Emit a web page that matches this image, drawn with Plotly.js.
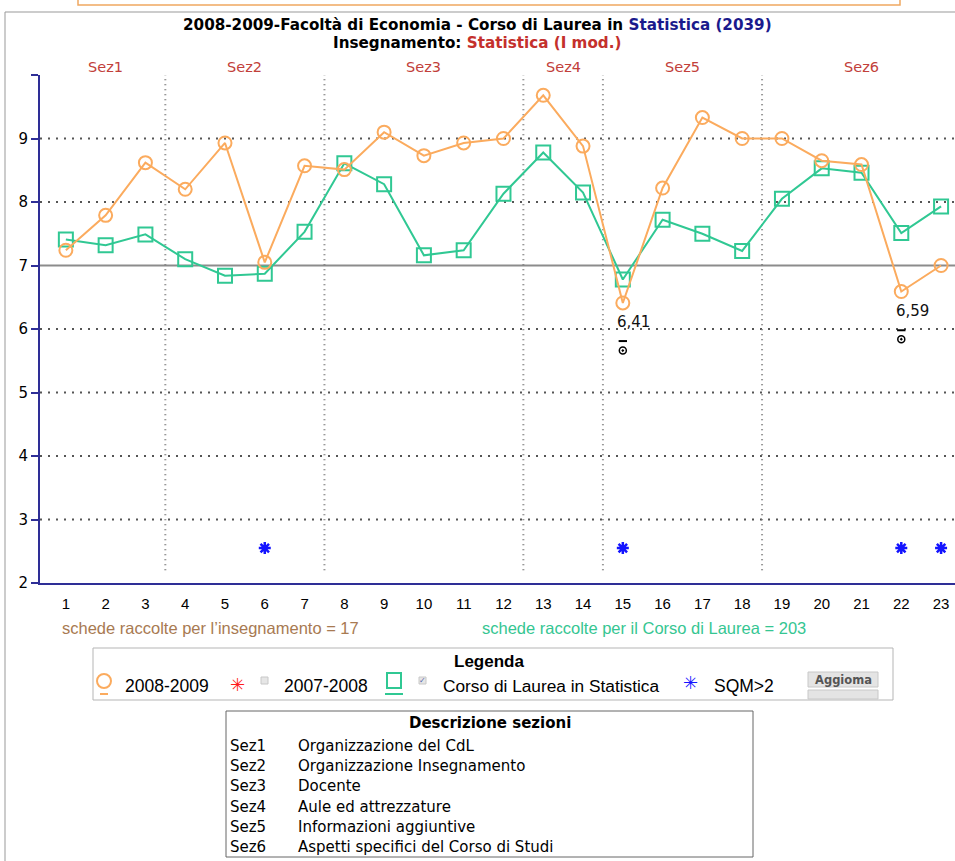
<!DOCTYPE html>
<html>
<head>
<meta charset="utf-8">
<script src="https://cdn.plot.ly/plotly-3.0.1.min.js"></script>
<style>
html,body{margin:0;padding:0;background:#fff;}
#chart{width:955px;height:861px;}
</style>
</head>
<body>
<div id="chart"></div>
<script>
// ---------- DATA ----------
var questions = [1,2,3,4,5,6,7,8,9,10,11,12,13,14,15,16,17,18,19,20,21,22,23];
var tickLabels = ["1","2","3","4","5","6","7","8","9","10","11","12","13","14","15","16","17","18","19","20","21","22","23"];
var values2008 = [7.24,7.79,8.62,8.20,8.93,7.05,8.57,8.51,9.10,8.73,8.93,9.00,9.68,8.88,6.41,8.22,9.33,9.00,9.00,8.65,8.59,6.59,7.00];
var valuesCdL  = [7.41,7.32,7.49,7.10,6.84,6.87,7.53,8.61,8.28,7.16,7.24,8.13,8.78,8.15,6.78,7.72,7.50,7.23,8.05,8.53,8.46,7.51,7.93];
var sqmX = [6,15,22,23];
var sqmY = [2.55,2.55,2.55,2.55];
var lowX = [15,22];
var lowLabels = ["6,41","6,59"];
var lowLabelY = [6.11,6.28];
var prevMarkX = [15,22];
var prevMarkY = [5.66,5.84];
var prevTickY = [5.81,5.98];
var sezNames = ["Sez1","Sez2","Sez3","Sez4","Sez5","Sez6"];
var sezCenters = [2,5.5,10,13.5,16.5,21];
var sezBounds = [3.5,7.5,12.5,14.5,18.5];
var sezDesc = ["Organizzazione del CdL","Organizzazione Insegnamento","Docente","Aule ed attrezzature","Informazioni aggiuntive","Aspetti specifici del Corso di Studi"];
var gridVals = [3,4,5,6,8,9];
var refLine = 7;
var yTicks = [2,3,4,5,6,7,8,9,10];
var yTickText = ["2","3","4","5","6","7","8","9",""];

// ---------- helpers (layout positions in pixels -> paper) ----------
var L=40, T=75, W=915, H=508;
function xp(p){return (p-L)/W;}
function yp(p){return (T+H-p)/H;}

var ORANGE='#fbab5e', GREEN='#30c893', BLUE='#1414ff';
var NAR='"Liberation Sans",Arial,sans-serif';
var VER='"DejaVu Sans",Verdana,sans-serif';

var traces = [
  {x:questions,y:valuesCdL,type:'scatter',mode:'lines+markers',
   line:{color:GREEN,width:2},marker:{symbol:'square-open',size:14,color:GREEN,line:{width:2,color:GREEN}},hoverinfo:'x+y'},
  {x:questions,y:values2008,type:'scatter',mode:'lines+markers',
   line:{color:ORANGE,width:2},marker:{symbol:'circle-open',size:13,color:ORANGE,line:{width:2,color:ORANGE}},hoverinfo:'x+y'},
  {x:sqmX,y:sqmY,type:'scatter',mode:'markers',
   marker:{symbol:'asterisk-open',size:10,color:BLUE,line:{width:2.5,color:BLUE}}},
  {x:prevMarkX,y:prevMarkY,type:'scatter',mode:'markers',
   marker:{symbol:'circle-open-dot',size:7,color:'#000',line:{width:1.5,color:'#000'}}},
  {x:prevMarkX,y:prevTickY,type:'scatter',mode:'markers',
   marker:{symbol:'line-ew-open',size:6,color:'#000',line:{width:2,color:'#000'}}}
];

var shapes = [];
// horizontal dotted grid
gridVals.forEach(function(v){
  shapes.push({type:'line',xref:'paper',yref:'y',x0:0,x1:1,y0:v,y1:v,layer:'below',
    line:{color:'#555',width:2,dash:'2px,6px'}});
});
shapes.push({type:'line',xref:'paper',yref:'y',x0:0,x1:1,y0:refLine,y1:refLine,layer:'below',
  line:{color:'#8c8c8c',width:2}});
// section dividers
sezBounds.forEach(function(b){
  shapes.push({type:'line',xref:'x',yref:'y',x0:b,x1:b,y0:2.2,y1:10.05,layer:'below',
    line:{color:'#777',width:2,dash:'1px,4px'}});
});
// page frame
shapes.push({type:'line',xref:'paper',yref:'paper',x0:xp(5),x1:xp(5),y0:yp(12),y1:yp(861),line:{color:'#999',width:1}});
shapes.push({type:'line',xref:'paper',yref:'paper',x0:xp(5),x1:xp(955),y0:yp(12),y1:yp(12),line:{color:'#999',width:1}});
shapes.push({type:'rect',xref:'paper',yref:'paper',x0:xp(78),x1:xp(900),y0:yp(-5),y1:yp(5),line:{color:'#f0a860',width:1.5},fillcolor:'#fff'});
// legend box
shapes.push({type:'rect',xref:'paper',yref:'paper',x0:xp(93),x1:xp(893),y0:yp(648),y1:yp(700),line:{color:'#b5b5b5',width:1},fillcolor:'#fff'});
shapes.push({type:'circle',xref:'paper',yref:'paper',x0:xp(97),x1:xp(111),y0:yp(674),y1:yp(688),line:{color:ORANGE,width:2}});
shapes.push({type:'line',xref:'paper',yref:'paper',x0:xp(100),x1:xp(108),y0:yp(694),y1:yp(694),line:{color:ORANGE,width:2}});
shapes.push({type:'rect',xref:'paper',yref:'paper',x0:xp(387),x1:xp(401),y0:yp(673),y1:yp(688),line:{color:GREEN,width:2}});
shapes.push({type:'line',xref:'paper',yref:'paper',x0:xp(385),x1:xp(403),y0:yp(694),y1:yp(694),line:{color:GREEN,width:2}});
shapes.push({type:'rect',xref:'paper',yref:'paper',x0:xp(261),x1:xp(268),y0:yp(677),y1:yp(684),line:{color:'#c8c8c8',width:1},fillcolor:'#e6e6e6'});
shapes.push({type:'rect',xref:'paper',yref:'paper',x0:xp(419),x1:xp(426),y0:yp(677),y1:yp(684),line:{color:'#c8c8c8',width:1},fillcolor:'#e6e6e6'});
shapes.push({type:'rect',xref:'paper',yref:'paper',x0:xp(808),x1:xp(878),y0:yp(672),y1:yp(687),line:{color:'#c8c8c8',width:1},fillcolor:'#e4e4e4'});
shapes.push({type:'rect',xref:'paper',yref:'paper',x0:xp(808),x1:xp(878),y0:yp(690),y1:yp(699),line:{color:'#c8c8c8',width:1},fillcolor:'#e4e4e4'});
// description table
shapes.push({type:'rect',xref:'paper',yref:'paper',x0:xp(226),x1:xp(753),y0:yp(711),y1:yp(857),line:{color:'#666',width:1},fillcolor:'rgba(0,0,0,0)'});

var ann = [];
function txt(x,y,text,opt){
  opt=opt||{};
  ann.push({xref:'paper',yref:'paper',x:xp(x),y:yp(y),text:text,showarrow:false,
    xanchor:opt.xa||'center',yanchor:'middle',
    font:{family:opt.fam||NAR,size:opt.size||14,color:opt.color||'#000'}});
}
txt(477,25,"<b>2008-2009-Facoltà di Economia - Corso di Laurea in <span style='color:#1a1a8c'>Statistica (2039)</span></b>",{size:15.2,fam:VER});
txt(477,43,"<b>Insegnamento: <span style='color:#c4302c'>Statistica (I mod.)</span></b>",{size:15.2,fam:VER});
sezNames.forEach(function(s,i){
  ann.push({xref:'x',yref:'paper',x:sezCenters[i],y:yp(67),text:s,showarrow:false,yanchor:'middle',
    font:{family:VER,size:14.5,color:'#c2403a'}});
});
lowX.forEach(function(x,i){
  ann.push({xref:'x',yref:'y',x:x,y:lowLabelY[i],text:lowLabels[i],showarrow:false,yanchor:'middle',xshift:11,
    font:{family:VER,size:15,color:'#111'}});
});
txt(60,628,"schede raccolte per l\u2019insegnamento = 17",{xa:'left',size:16.5,color:'#a87a52'});
txt(480,628,"schede raccolte per il Corso di Laurea = 203",{xa:'left',size:16.5,color:'#35c692'});
txt(489,661,"<b>Legenda</b>",{size:17});
txt(123,686,"2008-2009",{xa:'left',size:17.5});
txt(237,684,"<b>\u2733</b>",{size:18,color:'#ff1a1a',fam:VER});
txt(282,686,"2007-2008",{xa:'left',size:17.5});
txt(422,680,"\u2713",{size:8,color:'#5566aa',fam:VER});
txt(441,686,"Corso di Laurea in Statistica",{xa:'left',size:17.3});
txt(690,682,"<b>\u2733</b>",{size:18,color:BLUE,fam:VER});
txt(712,686,"SQM>2",{xa:'left',size:17.5});
txt(843,680,"<b>Aggioma</b>",{size:11.5,color:'#555',fam:VER});
txt(490,723,"<b>Descrizione sezioni</b>",{size:15,fam:VER});
sezNames.forEach(function(s,i){
  txt(228,746+i*20.2,s,{xa:'left',size:15,fam:VER});
  txt(296,746+i*20.2,sezDesc[i],{xa:'left',size:15,fam:VER});
});

var layout = {
  width:955,height:861,
  margin:{l:L,r:955-L-W,t:T,b:861-T-H,pad:0},
  paper_bgcolor:'#fff',plot_bgcolor:'#fff',
  showlegend:false,
  font:{family:NAR,size:14,color:'#000'},
  xaxis:{range:[0.35,23.35],tickmode:'array',tickvals:questions,ticktext:tickLabels,
    showgrid:false,zeroline:false,showline:true,linecolor:'#2e2e96',linewidth:2,
    ticks:'',ticklabelstandoff:6,tickfont:{family:NAR,size:15,color:'#000'},fixedrange:true},
  yaxis:{range:[2,10],tickmode:'array',tickvals:yTicks,ticktext:yTickText,
    showgrid:false,zeroline:false,showline:true,linecolor:'#2e2e96',linewidth:2,
    ticks:'outside',ticklen:7,tickwidth:2,tickcolor:'#2e2e96',
    tickfont:{family:VER,size:15,color:'#000'},fixedrange:true},
  shapes:shapes,
  annotations:ann
};
Plotly.newPlot('chart',traces,layout,{displayModeBar:false,staticPlot:true});
</script>
</body>
</html>
